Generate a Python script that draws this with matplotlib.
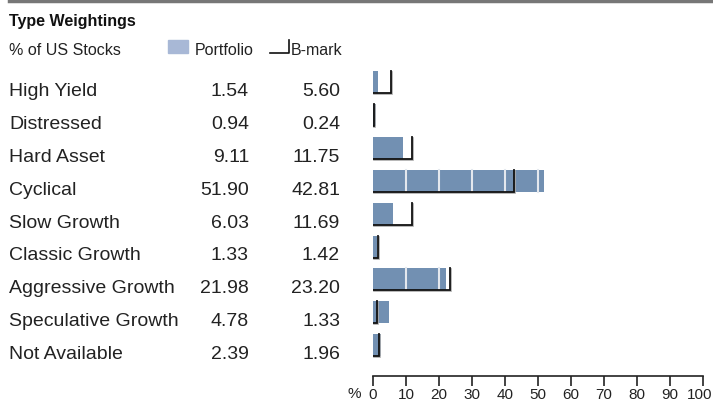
import matplotlib
matplotlib.use("Agg")
import matplotlib.pyplot as plt
from matplotlib.transforms import blended_transform_factory, ScaledTranslation
from matplotlib.patches import Rectangle
from matplotlib.lines import Line2D

categories = ["High Yield", "Distressed", "Hard Asset", "Cyclical", "Slow Growth",
              "Classic Growth", "Aggressive Growth", "Speculative Growth", "Not Available"]
portfolio = [1.54, 0.94, 9.11, 51.90, 6.03, 1.33, 21.98, 4.78, 2.39]
benchmark = [5.60, 0.24, 11.75, 42.81, 11.69, 1.42, 23.20, 1.33, 1.96]
xticks = [0, 10, 20, 30, 40, 50, 60, 70, 80, 90, 100]

FONT = ["Liberation Sans Narrow", "Liberation Sans", "DejaVu Sans"]
plt.rcParams["font.family"] = FONT

W, H = 713, 402
fig = plt.figure(figsize=(W / 100, H / 100), dpi=100)

x0, x1 = 373, 703
row0, step = 83.0, 32.9
ybot = 376.5
ax = fig.add_axes([x0 / W, (H - ybot) / H, (x1 - x0) / W, ybot / H])
ax.set_xlim(0, 100)
ax.set_ylim((ybot - row0) / step, -row0 / step)
for s in ["left", "right", "top"]:
    ax.spines[s].set_visible(False)
ax.spines["bottom"].set_color("#222222")
ax.spines["bottom"].set_linewidth(1.2)
ax.set_yticks([])
ax.set_xticks(xticks)
ax.set_xticklabels([str(t) for t in xticks], fontsize=11, color="#222222")
ax.tick_params(axis="x", direction="out", length=7, width=1.2, color="#222222", pad=1)
ax.patch.set_alpha(0)
# keep the last tick label inside the canvas
last = ax.get_xticklabels()[-1]
last.set_transform(last.get_transform() + ScaledTranslation(-3 / 100, 0, fig.dpi_scale_trans))

bar_h = 22 / step
bar_color = "#7290b2"
ypos = list(range(len(categories)))
ax.barh(ypos, portfolio, height=bar_h, color=bar_color, zorder=2)
# light grid lines visible only inside bars
for i, p in enumerate(portfolio):
    for t in xticks[1:-1]:
        if t < p:
            ax.plot([t, t], [i - bar_h / 2, i + bar_h / 2], color="#e4e8ee", lw=1.5, zorder=3)
# benchmark L-shapes
shadow = ax.transData + ScaledTranslation(1 / 100, -1 / 100, fig.dpi_scale_trans)
for i, b in enumerate(benchmark):
    top = i - bar_h / 2
    bot = i + bar_h / 2
    ax.plot([0, b, b], [bot, bot, top], color="#aaaaaa", lw=1.2, zorder=4,
            solid_joinstyle="miter", transform=shadow)
    ax.plot([0, b, b], [bot, bot, top], color="#111111", lw=1.3, zorder=5,
            solid_joinstyle="miter")

tr = blended_transform_factory(fig.transFigure, ax.transData)
base_off = (96 - 83) / step
for i, (c, p, b) in enumerate(zip(categories, portfolio, benchmark)):
    ax.text(9 / W, i + base_off, c, transform=tr, fontsize=14, va="baseline",
            ha="left", color="#222222", clip_on=False)
    ax.text(249 / W, i + base_off, f"{p:.2f}", transform=tr, fontsize=14,
            va="baseline", ha="right", color="#222222", clip_on=False)
    ax.text(340 / W, i + base_off, f"{b:.2f}", transform=tr, fontsize=14,
            va="baseline", ha="right", color="#222222", clip_on=False)

fig.text(347 / W, 1 - 398 / H, "%", fontsize=11, color="#222222", va="baseline", ha="left")

# header
fig.add_artist(Line2D([9 / W, 1], [1 - 1.5 / H, 1 - 1.5 / H], color="#777777", lw=2.5,
                      transform=fig.transFigure))
fig.text(9 / W, 1 - 26 / H, "Type Weightings", fontsize=11.5, fontweight="bold",
         color="#111111", va="baseline", ha="left")
fig.text(9 / W, 1 - 55 / H, "% of US Stocks", fontsize=11.5, color="#222222",
         va="baseline", ha="left")
fig.add_artist(Rectangle((168 / W, 1 - 54 / H), 20 / W, 13 / H, color="#a8b8d6",
                         transform=fig.transFigure))
fig.text(195 / W, 1 - 55 / H, "Portfolio", fontsize=11.5, color="#222222",
         va="baseline", ha="left")
fig.add_artist(Line2D([270 / W, 289 / W, 289 / W], [1 - 54 / H, 1 - 54 / H, 1 - 41 / H],
                      color="#111111", lw=1.2, transform=fig.transFigure))
fig.text(291 / W, 1 - 55 / H, "B-mark", fontsize=11.5, color="#222222",
         va="baseline", ha="left")

fig.savefig("out.png", dpi=100)
